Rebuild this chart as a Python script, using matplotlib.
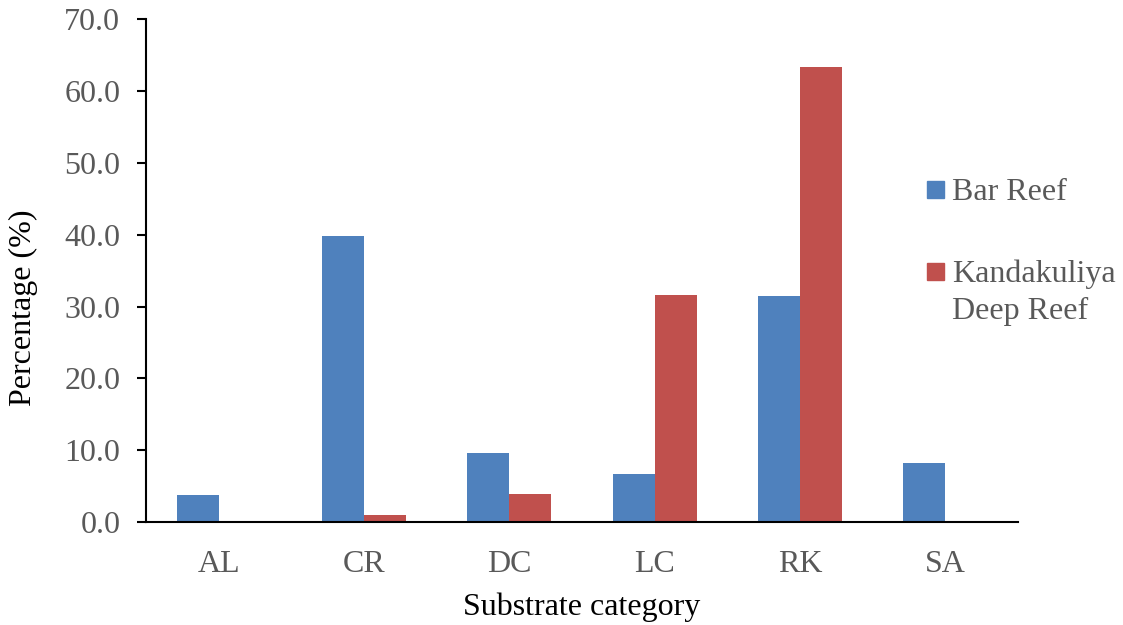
import numpy as np
import matplotlib.pyplot as plt
from matplotlib.patches import Rectangle

categories = ["AL", "CR", "DC", "LC", "RK", "SA"]
bar_reef = [3.8, 39.8, 9.6, 6.6, 31.5, 8.2]
kandakuliya = [0.0, 0.9, 3.9, 31.6, 63.3, 0.0]
series_names = ["Bar Reef", "Kandakuliya\nDeep Reef"]
colors = ["#4F81BD", "#C0504D"]

plt.rcParams["font.family"] = ["Liberation Serif", "DejaVu Serif"]

fig = plt.figure(figsize=(11.23, 6.25), dpi=100)
ax = fig.add_axes([0.130, 0.165, 0.7765, 0.804])

x = np.arange(len(categories))
w = 0.288
ax.bar(x - w / 2, bar_reef, w, color=colors[0])
ax.bar(x + w / 2, kandakuliya, w, color=colors[1])

ax.set_xlim(-0.5, len(categories) - 0.5)
ax.set_ylim(0, 70)
ax.set_yticks(np.arange(0, 71, 10))
ax.set_yticklabels([f"{v:.1f}" for v in np.arange(0, 71, 10)])
ax.set_xticks(x)
ax.set_xticklabels(categories)

for side in ["top", "right"]:
    ax.spines[side].set_visible(False)
for side in ["left", "bottom"]:
    ax.spines[side].set_linewidth(1.5)
    ax.spines[side].set_color("black")

ax.tick_params(axis="y", direction="out", length=6.5, width=1.5,
               labelsize=23, labelcolor="#595959", pad=12)
ax.tick_params(axis="x", length=0, labelsize=23, labelcolor="#595959", pad=20)

ax.set_xlabel("Substrate category", fontsize=23, labelpad=10)
ax.set_ylabel("Percentage (%)", fontsize=23)
ax.yaxis.set_label_coords(-0.124, 0.427)

# legend drawn by hand: square key + label, second label wraps onto two lines
W, H = 1123, 625
key_tops = [181, 263]
for c, top, name in zip(colors, key_tops, series_names):
    fig.add_artist(Rectangle((927 / W, 1 - (top + 17) / H), 17 / W, 17 / H,
                             transform=fig.transFigure, color=c))
    lines = name.split("\n")
    for i, line in enumerate(lines):
        base = top + 19 + i * 37
        fig.text(952 / W, 1 - base / H, line, fontsize=23, color="#595959",
                 ha="left", va="baseline")

fig.savefig("out.png", dpi=100)
